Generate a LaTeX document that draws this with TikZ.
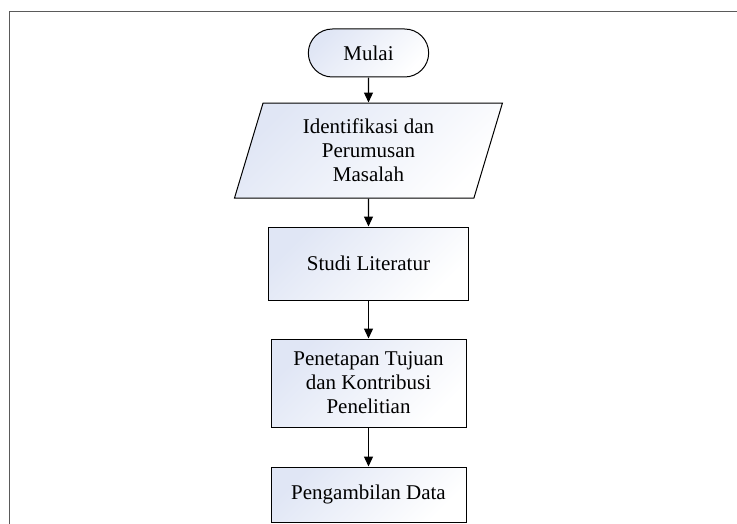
\documentclass[tikz,border=0pt]{standalone}
\usepackage{fontspec}
\setmainfont{Liberation Serif}
\usetikzlibrary{positioning,shapes.geometric,shapes.misc,arrows.meta}

\definecolor{boxtint}{RGB}{224,230,245}
\definecolor{framegray}{RGB}{90,90,90}

\tikzset{
  tinted/.style={draw, line width=1pt, top color=boxtint, bottom color=white, shading angle=45},
  terminal/.style={tinted, rounded rectangle, minimum width=127pt, minimum height=48pt},
  iobox/.style={tinted, trapezium, trapezium left angle=75, trapezium right angle=105,
    trapezium stretches=true, minimum width=268pt, minimum height=95pt, align=center},
  procbox/.style={tinted, rectangle, align=center, minimum width=195pt},
  flow/.style={-{Triangle[length=10pt,width=9pt]}, line width=1.3pt}
}

\begin{document}
\begin{tikzpicture}[x=1pt, y=1pt, font=\fontsize{21}{24}\selectfont]
        \useasboundingbox (0,0) rectangle (737,-524);
        % Frame (cut off at the right and bottom)
        \coordinate (fbl) at (9,-524);
        \coordinate (ftl) at (9,-11);
        \coordinate (ftr) at (737,-11);
        \draw [framegray, line width=0.8pt] (fbl) -- (ftl) -- (ftr);

        % Nodes for the research flow
        \node [terminal] (mulai) at (368.5,-53) {Mulai};
        \node [iobox, below=25pt of mulai] (masalah) {Identifikasi dan\\Perumusan\\Masalah};
        \node [procbox, minimum width=200pt, minimum height=73pt, below=28pt of masalah] (literatur) {Studi Literatur};
        \node [procbox, minimum height=88pt, below=38pt of literatur] (tujuan) {Penetapan Tujuan\\dan Kontribusi\\Penelitian};
        \node [procbox, minimum height=55pt, below=39pt of tujuan] (data) {Pengambilan Data};

        % Arrows for the research flow
        \draw [flow] (mulai) -- (masalah);
        \draw [flow] (masalah) -- (literatur);
        \draw [flow] (literatur) -- (tujuan);
        \draw [flow] (tujuan) -- (data);
    \end{tikzpicture}
\end{document}
